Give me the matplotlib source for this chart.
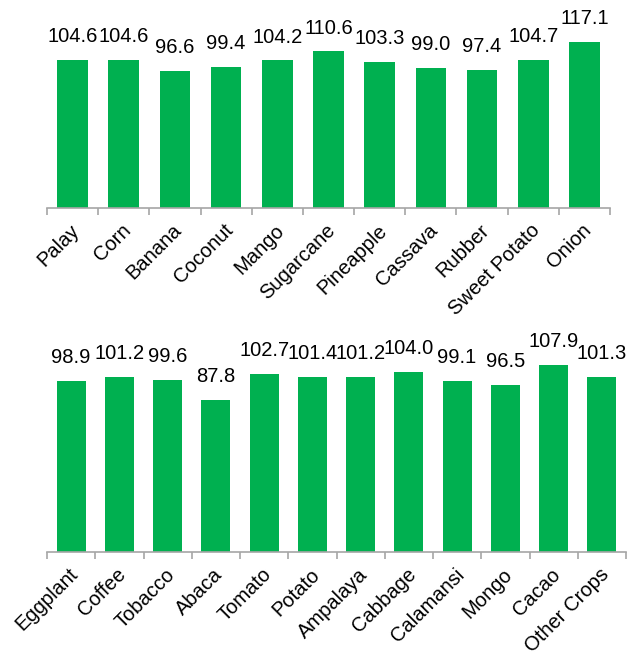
import matplotlib
matplotlib.use("Agg")
import matplotlib.pyplot as plt
import matplotlib.transforms as mtransforms

plt.rcParams['font.family'] = ['Liberation Sans', 'DejaVu Sans']

### Data
crops_top = ["Palay", "Corn", "Banana", "Coconut", "Mango", "Sugarcane",
             "Pineapple", "Cassava", "Rubber", "Sweet Potato", "Onion"]
values_top = [104.6, 104.6, 96.6, 99.4, 104.2, 110.6, 103.3, 99.0, 97.4, 104.7, 117.1]

crops_bottom = ["Eggplant", "Coffee", "Tobacco", "Abaca", "Tomato", "Potato",
                "Ampalaya", "Cabbage", "Calamansi", "Mongo", "Cacao", "Other Crops"]
values_bottom = [98.9, 101.2, 99.6, 87.8, 102.7, 101.4, 101.2, 104.0, 99.1, 96.5, 107.9, 101.3]

GREEN = "#00B050"
GRAY = "#A6A6A6"
FS = 14.5

fig = plt.figure(figsize=(6.35, 6.55), dpi=100)

def draw(ax, cats, vals, ymax):
    n = len(cats)
    xs = list(range(n))
    ax.bar(xs, vals, width=0.6, color=GREEN, zorder=2)
    for x, v in zip(xs, vals):
        ax.annotate("%.1f" % v, (x, v), xytext=(0, 10), textcoords="offset points",
                    ha="center", va="bottom", fontsize=FS, color="black")
    ax.set_xlim(-0.5, n - 0.5)
    ax.set_ylim(0, ymax)
    ax.set_yticks([])
    for s in ["top", "right", "left"]:
        ax.spines[s].set_visible(False)
    ax.spines["bottom"].set_color(GRAY)
    ax.spines["bottom"].set_linewidth(1.2)
    # category labels on major ticks, tick marks between categories
    ax.set_xticks(xs)
    ax.set_xticklabels(cats, rotation=45, ha="right", va="center",
                       rotation_mode="anchor", fontsize=FS)
    ax.tick_params(axis="x", which="major", length=0, pad=14)
    shift = mtransforms.ScaledTranslation(4/100, 0, fig.dpi_scale_trans)
    for lab in ax.get_xticklabels():
        lab.set_transform(lab.get_transform() + shift)
    ax.set_xticks([i - 0.5 for i in range(n + 1)], minor=True)
    ax.tick_params(axis="x", which="minor", length=5, width=1.2, color=GRAY)

### Top panel
ax1 = fig.add_axes([47/635, 447/655, 563/635, 140*1.416/655])
draw(ax1, crops_top, values_top, 140)

### Bottom panel
ax2 = fig.add_axes([47/635, 103/655, 579/635, 120*1.73/655])
draw(ax2, crops_bottom, values_bottom, 120)

fig.savefig("out.png", dpi=100)
